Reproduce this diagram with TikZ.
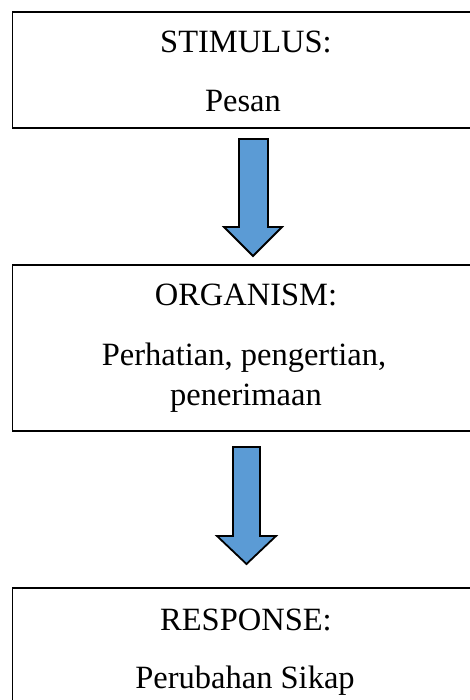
\documentclass[tikz,border=0pt]{standalone}
\usepackage{fontspec}
\setmainfont{Liberation Serif}
\definecolor{arrowblue}{HTML}{5B9BD5}
\tikzset{
  box/.style={draw, line width=1.2pt, inner sep=0pt},
  label/.style={anchor=base, font=\fontsize{32.5}{32.5}\selectfont},
  blockarrow/.style={draw, fill=arrowblue, line width=1.8pt, line join=miter}
}
\begin{document}
\begin{tikzpicture}[x=1pt,y=-1pt]
\useasboundingbox (0,0) rectangle (470,700);

% boxes
\node[box, minimum width=467.5pt, minimum height=116pt] (stim) at (246.25,70) {};
\node[box, minimum width=467.5pt, minimum height=166pt] (org) at (246.25,348) {};
\node[box, minimum width=467.5pt, minimum height=132pt] (resp) at (246.25,654) {};

% texts
\node[label] (stimtitle) at (246,53) {STIMULUS:};
\node[label] (stimtext) at (243,112) {Pesan};
\node[label] (orgtitle) at (246,305) {ORGANISM:};
\node[label] (orgtext) at (244,365) {Perhatian, pengertian,};
\node[label] (orgtext2) at (246,405) {penerimaan};
\node[label] (resptitle) at (246,630) {RESPONSE:};
\node[label] (resptext) at (245,688) {Perubahan Sikap};

% arrows
\draw[blockarrow] (239,139) -- (268,139) -- (268,227) -- (282,227) -- (253,256)
	-- (224,227) -- (239,227) -- cycle;
\draw[blockarrow] (233,447) -- (260,447) -- (260,536) -- (276,536) -- (246.5,564)
	-- (217,536) -- (233,536) -- cycle;
\end{tikzpicture}
\end{document}
